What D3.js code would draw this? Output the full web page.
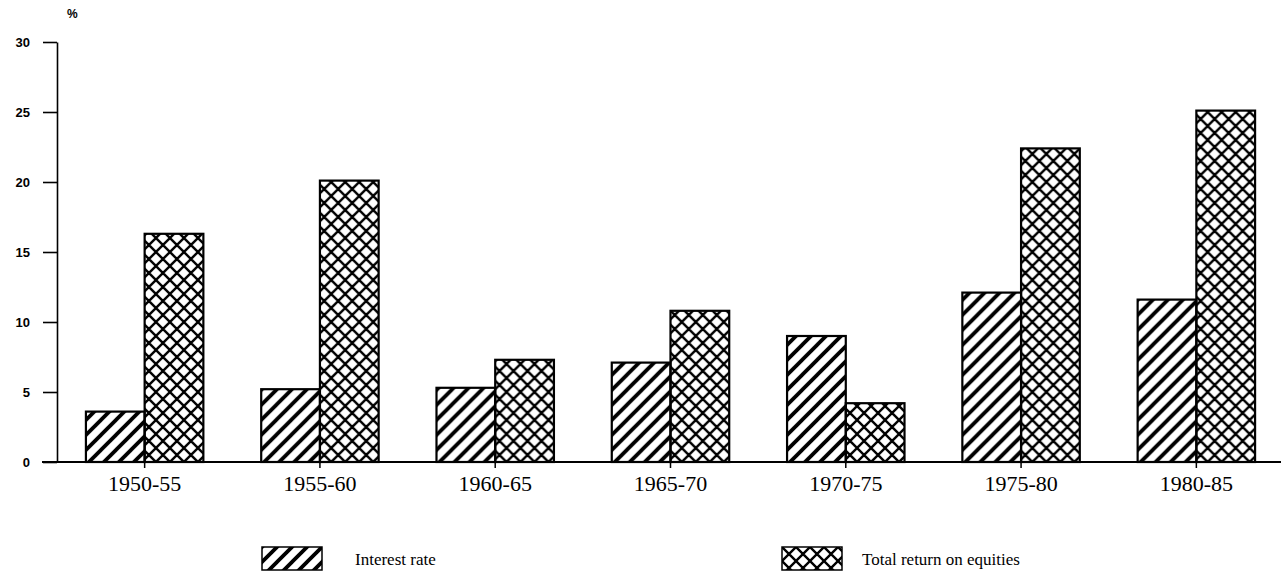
<!DOCTYPE html>
<html>
<head>
<meta charset="utf-8">
<script src="https://cdn.jsdelivr.net/npm/d3@7"></script>
<style>
  html, body { margin: 0; padding: 0; background: #fff; }
  svg { display: block; }
</style>
</head>
<body>
<svg id="chart" width="1281" height="580"></svg>
<script>
const categories = ["1950-55", "1955-60", "1960-65", "1965-70", "1970-75", "1975-80", "1980-85"];
const interestRate = [3.6, 5.2, 5.3, 7.1, 9.0, 12.1, 11.6];
const equityReturn = [16.3, 20.1, 7.3, 10.8, 4.2, 22.4, 25.1];
const yTicks = [0, 5, 10, 15, 20, 25, 30];
const seriesNames = ["Interest rate", "Total return on equities"];

const svg = d3.select("#chart");
const defs = svg.append("defs");

// diagonal hatch "/"
const hw = 15;
defs.append("pattern")
  .attr("id", "hatch")
  .attr("patternUnits", "userSpaceOnUse")
  .attr("width", hw).attr("height", hw)
  .append("path")
  .attr("d", `M0,${hw} L${hw},0 M${-hw/2},${hw/2} L${hw/2},${-hw/2} M${hw/2},${hw*1.5} L${hw*1.5},${hw/2}`)
  .attr("stroke", "#000").attr("stroke-width", 3.8).attr("fill", "none");

// cross hatch "X"
const cw = 14;
const cross = defs.append("pattern")
  .attr("id", "cross")
  .attr("patternUnits", "userSpaceOnUse")
  .attr("width", cw).attr("height", cw);
cross.append("path")
  .attr("d", `M0,${cw} L${cw},0 M${-cw/2},${cw/2} L${cw/2},${-cw/2} M${cw/2},${cw*1.5} L${cw*1.5},${cw/2}
              M0,0 L${cw},${cw} M${-cw/2},${cw/2} L${cw/2},${cw*1.5} M${cw/2},${-cw/2} L${cw*1.5},${cw/2}`)
  .attr("stroke", "#000").attr("stroke-width", 2.4).attr("fill", "none");

const x = d3.scaleBand().domain(categories).range([57, 1284]).paddingInner(0.33).paddingOuter(0.165);
const x1 = d3.scaleBand().domain([0, 1]).range([0, x.bandwidth()]);
const y = d3.scaleLinear().domain([0, 30]).range([462, 42]);

// bars
const groups = svg.append("g").selectAll("g").data(categories).join("g")
  .attr("transform", d => `translate(${x(d)},0)`);
groups.append("rect")
  .attr("x", x1(0)).attr("width", x1.bandwidth())
  .attr("y", (d, i) => y(interestRate[i]))
  .attr("height", (d, i) => y(0) - y(interestRate[i]))
  .attr("fill", "url(#hatch)").attr("stroke", "#000").attr("stroke-width", 2.2);
groups.append("rect")
  .attr("x", x1(1)).attr("width", x1.bandwidth())
  .attr("y", (d, i) => y(equityReturn[i]))
  .attr("height", (d, i) => y(0) - y(equityReturn[i]))
  .attr("fill", "url(#cross)").attr("stroke", "#000").attr("stroke-width", 2.2);

// y axis
const yAxis = svg.append("g").attr("transform", "translate(57,0)")
  .call(d3.axisLeft(y).tickValues(yTicks).tickSize(14).tickPadding(13).tickSizeOuter(0));
yAxis.select(".domain").attr("stroke-width", 1.6);
yAxis.selectAll(".tick line").attr("stroke-width", 1.6);
yAxis.selectAll("text").attr("font-family", "'Liberation Sans', Arial, sans-serif")
  .attr("font-weight", "bold").attr("font-size", 13).attr("fill", "#000");

svg.append("text").attr("x", 67).attr("y", 18).text("%")
  .attr("font-family", "'Liberation Sans', Arial, sans-serif").attr("font-weight", "bold").attr("font-size", 12);

// x axis
const xAxis = svg.append("g").attr("transform", "translate(0,462)")
  .call(d3.axisBottom(x).tickSize(6).tickPadding(7).tickSizeOuter(0));
xAxis.select(".domain").remove();
xAxis.append("line").attr("x1", 42).attr("x2", 1281).attr("y1", 0).attr("y2", 0)
  .attr("stroke", "#000").attr("stroke-width", 2);
xAxis.selectAll(".tick line").attr("stroke-width", 1.5);
xAxis.selectAll("text").attr("font-family", "'Liberation Serif', 'Times New Roman', serif")
  .attr("font-size", 22).attr("fill", "#000");

// legend
const legendX = [262, 782];
const legend = svg.append("g").selectAll("g").data(seriesNames).join("g")
  .attr("transform", (d, i) => `translate(${legendX[i]},547)`);
legend.append("rect").attr("width", 60).attr("height", 23)
  .attr("fill", (d, i) => i === 0 ? "url(#hatch)" : "url(#cross)")
  .attr("stroke", "#000").attr("stroke-width", 1.5);
legend.append("text").attr("x", (d, i) => i === 0 ? 93 : 80).attr("y", 18).text(d => d)
  .attr("font-family", "'Liberation Serif', 'Times New Roman', serif").attr("font-size", 17);
</script>
</body>
</html>
